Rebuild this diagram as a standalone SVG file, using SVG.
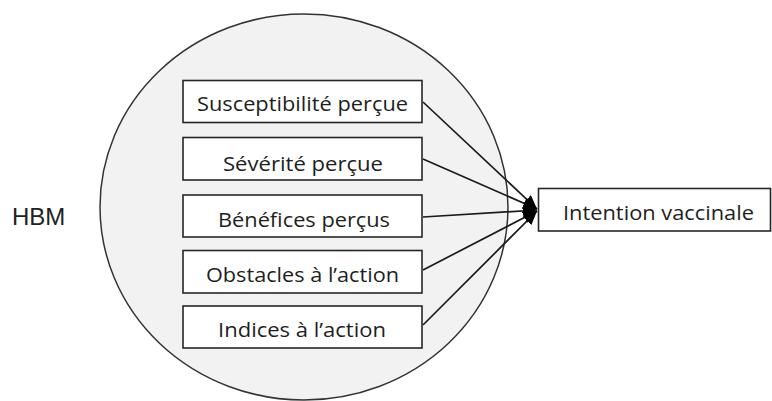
<svg xmlns="http://www.w3.org/2000/svg" width="772" height="401" viewBox="0 0 772 401">
<defs>
<style>
.box{fill:#ffffff;stroke:#262626;stroke-width:1.6}
.lbl{font-family:"Open Sans","Noto Sans",sans-serif;font-size:19.5px;fill:#1e1e1e;text-anchor:middle}
.conn{stroke:#1a1a1a;stroke-width:1.7;fill:none;marker-end:url(#arr)}
</style>
<marker id="arr" markerUnits="userSpaceOnUse" markerWidth="15" markerHeight="12" refX="14" refY="6" orient="auto">
<path d="M0,0 L14,6 L0,12 Z" fill="#000"/>
</marker>
</defs>
<rect width="772" height="401" fill="#ffffff"/>
<g id="hbm">
<ellipse cx="304" cy="207" rx="204" ry="193" fill="#f2f2f2" stroke="#333" stroke-width="1.5"/>
<text x="12" y="225" font-family="Liberation Sans, Arial, sans-serif" font-size="24" fill="#222">HBM</text>
</g>
<g id="connectors">
<line class="conn" x1="423" y1="102" x2="537" y2="209"/>
<line class="conn" x1="423" y1="159" x2="537" y2="209"/>
<line class="conn" x1="423" y1="217" x2="537" y2="210"/>
<line class="conn" x1="423" y1="270" x2="537" y2="211"/>
<line class="conn" x1="423" y1="325" x2="537" y2="211"/>
</g>
<g id="n1"><rect class="box" x="183" y="80.5" width="239" height="42"/><text class="lbl" x="302.5" y="111" textLength="211" lengthAdjust="spacingAndGlyphs">Susceptibilité perçue</text></g>
<g id="n2"><rect class="box" x="183" y="137.5" width="239" height="42.5"/><text class="lbl" x="303" y="171" textLength="160" lengthAdjust="spacingAndGlyphs">Sévérité perçue</text></g>
<g id="n3"><rect class="box" x="183" y="195" width="239" height="42"/><text class="lbl" x="304" y="227" textLength="172" lengthAdjust="spacingAndGlyphs">Bénéfices perçus</text></g>
<g id="n4"><rect class="box" x="183" y="250.5" width="239" height="42.5"/><text class="lbl" x="302.5" y="282" textLength="193" lengthAdjust="spacingAndGlyphs">Obstacles à l’action</text></g>
<g id="n5"><rect class="box" x="183" y="306" width="239" height="42"/><text class="lbl" x="302" y="337" textLength="168" lengthAdjust="spacingAndGlyphs">Indices à l’action</text></g>
<g id="target"><rect class="box" x="538.5" y="188.5" width="232" height="42.5"/><text class="lbl" x="658.5" y="220" textLength="191" lengthAdjust="spacingAndGlyphs">Intention vaccinale</text></g>
</svg>
